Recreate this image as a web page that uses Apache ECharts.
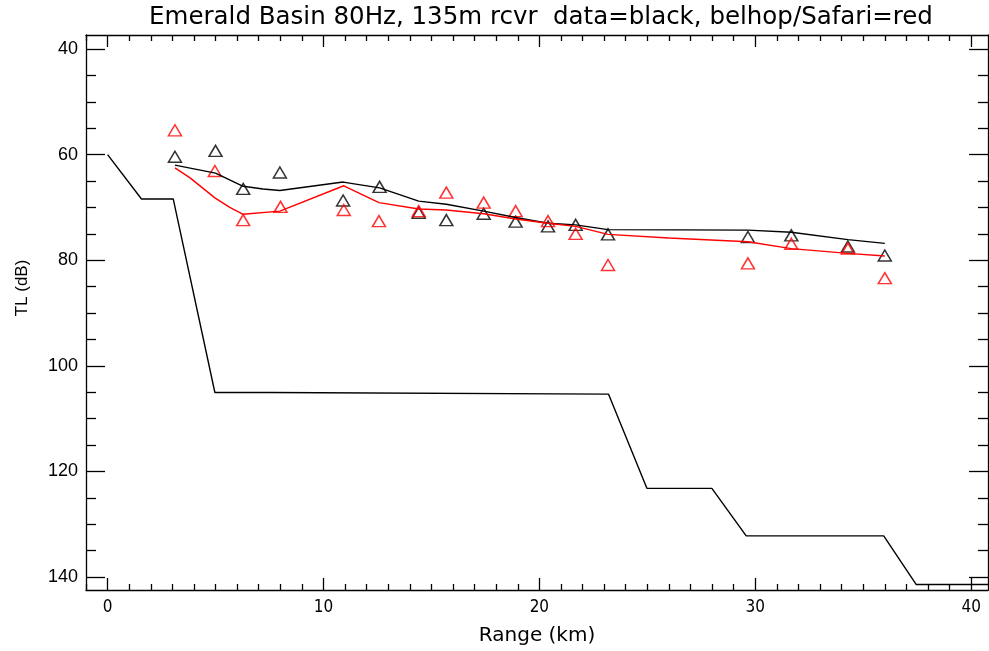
<!DOCTYPE html>
<html>
<head>
<meta charset="utf-8">
<script src="https://cdn.jsdelivr.net/npm/echarts@6/dist/echarts.min.js"></script>
<style>html,body{margin:0;padding:0;background:#fff}#c{width:989px;height:651px}</style>
</head>
<body>
<div id="c"></div>
<script>
// ---- data ----
const titleText = 'Emerald Basin 80Hz, 135m rcvr  data=black, belhop/Safari=red';
const xTickLabels = [0, 10, 20, 30, 40];
const yTickLabels = [40, 60, 80, 100, 120, 140];

const bathyKm = [0, 1.57, 3.04, 4.97, 7.5, 7.55, 23.2, 24.98, 27.99, 29.58, 35.95, 37.45, 41];
const bathyDb = [60, 68.4, 68.4, 105.05, 105.05, 105.35, 105.35, 123.2, 123.2, 132.2, 132.2, 141.4, 141.4];

const dataKm = [3.12, 5.0, 6.28, 7.98, 10.91, 12.6, 14.41, 15.69, 17.42, 18.9, 20.4, 21.68, 23.18, 29.66, 31.67, 34.29, 36.0];
const dataDb = [60.4, 59.3, 66.5, 63.4, 68.7, 66.1, 71.0, 72.4, 71.2, 72.7, 73.6, 73.3, 75.1, 75.6, 75.3, 77.4, 79.1];

const modelKm = [3.12, 4.97, 6.28, 8.01, 10.94, 12.57, 14.41, 15.69, 17.42, 18.9, 20.4, 21.68, 23.18, 29.66, 31.67, 34.29, 36.0];
const modelDb = [55.4, 63.1, 72.4, 69.9, 70.5, 72.6, 70.7, 67.2, 69.1, 70.7, 72.6, 75.0, 80.9, 80.6, 76.9, 77.8, 83.4];

const blackLineKm = [3.12, 5.0, 6.28, 7.2, 7.98, 10.91, 12.6, 14.41, 15.69, 17.42, 18.9, 20.4, 21.68, 23.18, 29.66, 31.67, 34.29, 36.0];
const blackLineDb = [62.0, 63.5, 66.0, 66.5, 66.8, 65.2, 66.3, 68.8, 69.4, 70.7, 71.9, 73.0, 73.3, 74.2, 74.3, 74.7, 76.1, 76.8];

const redLineKm = [3.12, 3.82, 4.97, 5.66, 6.28, 7.98, 10.94, 12.57, 14.41, 15.69, 17.42, 18.9, 20.4, 21.68, 23.18, 26.0, 29.66, 31.67, 34.29, 36.0];
const redLineDb = [62.5, 64.4, 68.2, 70.0, 71.3, 70.7, 65.9, 69.1, 70.3, 70.5, 71.2, 72.2, 73.0, 73.6, 75.1, 75.8, 76.5, 77.8, 78.7, 79.2];

// ---- helpers ----
const pairs = (xs, ys) => xs.map((x, i) => [x, ys[i]]);
const xMinor = [];
for (let v = -1; v <= 40; v++) if (v % 10 !== 0) xMinor.push(v);
const yMinor = [];
for (let v = 40; v <= 140; v += 5) if (v % 20 !== 0) yMinor.push(v);

const XMIN = -1.0, XMAX = 40.78, YMIN = 37.35, YMAX = 142.45;
const lineStyle = { color: '#000', width: 1.3 };

function xAx(pos, vals, len, labels) {
  return {
    type: 'value', position: pos, min: XMIN, max: XMAX,
    axisLine: { show: labels !== null, onZero: false, lineStyle: lineStyle },
    splitLine: { show: false },
    axisTick: { show: true, inside: true, length: len, customValues: vals, lineStyle: lineStyle },
    axisLabel: labels ? { show: true, customValues: vals, margin: 9, color: '#000',
      fontFamily: 'DejaVu Sans Condensed, DejaVu Sans', fontSize: 17 } : { show: false }
  };
}
function yAx(pos, vals, len, labels) {
  return {
    type: 'value', position: pos, inverse: true, min: YMIN, max: YMAX,
    axisLine: { show: labels !== null, onZero: false, lineStyle: lineStyle },
    splitLine: { show: false },
    axisTick: { show: true, inside: true, length: len, customValues: vals, lineStyle: lineStyle },
    axisLabel: labels ? { show: true, customValues: vals, margin: 8, color: '#000',
      fontFamily: 'Liberation Sans, Arial', fontSize: 18 } : { show: false }
  };
}

const xAxes = [
  Object.assign(xAx('bottom', xTickLabels, 12, true), {
    name: 'Range (km)', nameLocation: 'middle', nameGap: 36,
    nameTextStyle: { color: '#000', fontFamily: 'DejaVu Sans', fontSize: 20 }
  }),
  xAx('bottom', xMinor, 6, null),
  xAx('top', xTickLabels, 12, false),
  xAx('top', xMinor, 6, null)
];
const yAxes = [
  yAx('left', yTickLabels, 19, true),
  yAx('left', yMinor, 10, null),
  yAx('right', yTickLabels, 19, false),
  yAx('right', yMinor, 10, null)
];

const chart = echarts.init(document.getElementById('c'), null, { renderer: 'canvas' });
chart.setOption({
  backgroundColor: '#fff',
  animation: false,
  title: {
    text: titleText, left: 536, top: 0, textAlign: 'center',
    textStyle: { color: '#000', fontWeight: 'normal', fontSize: 24.5, fontFamily: 'DejaVu Sans' }
  },
  grid: { left: 86, right: 1, top: 35, bottom: 53, containLabel: false },
  xAxis: xAxes,
  yAxis: yAxes,
  graphic: [{
    type: 'text', x: 22, y: 288, rotation: Math.PI / 2,
    style: { text: 'TL (dB)', fill: '#000', font: '17px "Liberation Sans", Arial', textAlign: 'center', textVerticalAlign: 'middle' }
  }],
  series: [
    { type: 'line', name: 'bathy', data: pairs(bathyKm, bathyDb), showSymbol: false, symbol: 'none',
      lineStyle: { color: '#000', width: 1.4 }, clip: true },
    { type: 'line', name: 'data line', data: pairs(blackLineKm, blackLineDb), symbol: 'none',
      lineStyle: { color: '#000', width: 1.4 } },
    { type: 'line', name: 'model line', data: pairs(redLineKm, redLineDb), symbol: 'none',
      lineStyle: { color: '#ff0000', width: 1.4 } },
    { type: 'scatter', name: 'data', data: pairs(dataKm, dataDb), symbol: 'triangle', symbolSize: [13, 11],
      itemStyle: { color: 'rgba(0,0,0,0)', borderColor: '#000', borderWidth: 1.5 } },
    { type: 'scatter', name: 'model', data: pairs(modelKm, modelDb), symbol: 'triangle', symbolSize: [13, 11],
      itemStyle: { color: 'rgba(0,0,0,0)', borderColor: '#ff0000', borderWidth: 1.5 } }
  ]
});
</script>
</body>
</html>
